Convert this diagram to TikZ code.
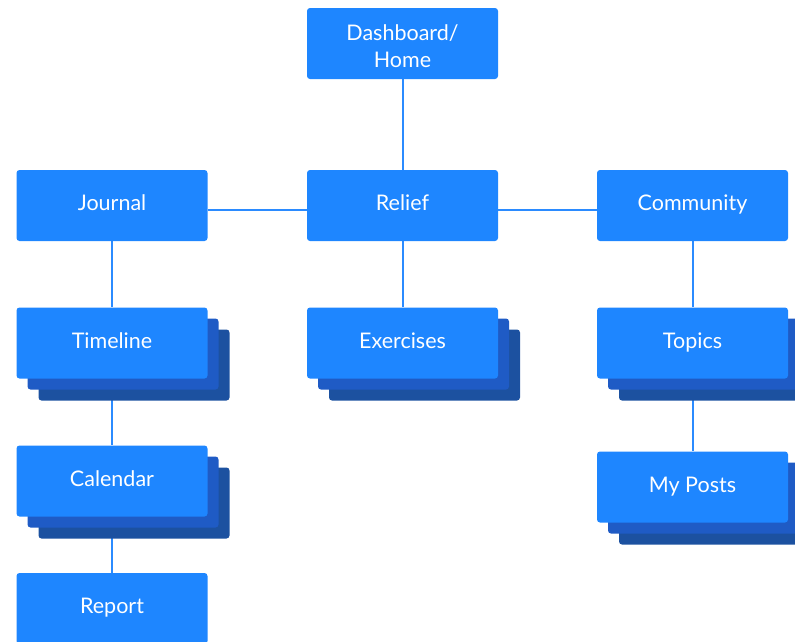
\documentclass[tikz,border=0pt]{standalone}
\usepackage{fontspec}
\setmainfont{Lato}
\usetikzlibrary{backgrounds}
\definecolor{cmain}{HTML}{1E86FF}
\definecolor{csa}{HTML}{1F5BC5}
\definecolor{csb}{HTML}{1C51A0}
\definecolor{cline}{HTML}{2B8BFF}
\begin{document}
\begin{tikzpicture}[x=1pt,y=-1pt,
  boxbase/.style={fill=cmain, rounded corners=3pt, minimum width=191pt, minimum height=71pt,
    inner sep=0pt, text=white, font=\fontsize{21.5}{27}\selectfont},
  box/.style={boxbase, text height=15pt, text depth=5pt},
  sha/.style={boxbase, fill=csa},
  shb/.style={boxbase, fill=csb},
  link/.style={draw=cline, line width=2pt}]
\useasboundingbox (0,0) rectangle (795,641);
% stacked shadows
\node[shb] (timelineB) at (134,365) {};
\node[sha] (timelineA) at (123,354) {};
\node[shb] (exercisesB) at (424.5,365) {};
\node[sha] (exercisesA) at (413.5,354) {};
\node[shb] (topicsB) at (714.5,365) {};
\node[sha] (topicsA) at (703.5,354) {};
\node[shb] (calendarB) at (134,503) {};
\node[sha] (calendarA) at (123,492) {};
\node[shb] (postsB) at (714.5,509) {};
\node[sha] (postsA) at (703.5,498) {};
% main boxes
\node[boxbase] (dash) at (402.5,43.5) {};
\node[text=white, font=\fontsize{21.5}{27}\selectfont, align=center, inner sep=0pt]
  (dashlabel) at ([yshift=-3pt]dash.center) {Dashboard/\\Home};
\node[box] (journal) at (112,205.5) {Journal};
\node[box] (relief) at (402.5,205.5) {Relief};
\node[box] (community) at (692.5,205.5) {Community};
\node[box] (timeline) at (112,343) {Timeline};
\node[box] (exercises) at (402.5,343) {Exercises};
\node[box] (topics) at (692.5,343) {Topics};
\node[box] (calendar) at (112,481) {Calendar};
\node[box] (posts) at (692.5,487) {My Posts};
\node[box] (report) at (112,608.5) {Report};
% connectors
\begin{scope}[on background layer]
\draw[link] (dash.south) -- (relief.north);
\draw[link] ([yshift=-4.5pt]journal.east) -- ([yshift=-4.5pt]relief.west);
\draw[link] ([yshift=-4.5pt]relief.east) -- ([yshift=-4.5pt]community.west);
\draw[link] (journal.south) -- (timeline.north);
\draw[link] (relief.south) -- (exercises.north);
\draw[link] (community.south) -- (topics.north);
\draw[link] (timeline.south) -- (calendar.north);
\draw[link] (calendar.south) -- (report.north);
\draw[link] (topics.south) -- (posts.north);
\end{scope}
\end{tikzpicture}
\end{document}
